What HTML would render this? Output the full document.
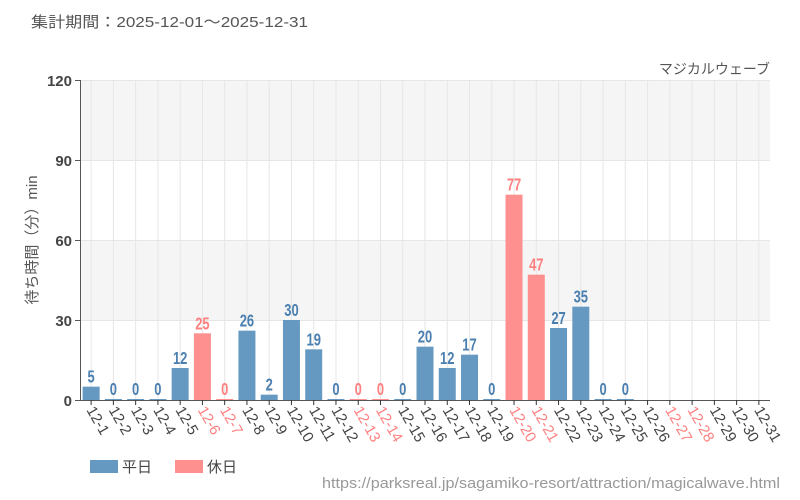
<!DOCTYPE html>
<html><head><meta charset="utf-8"><style>body{margin:0;background:#fff}svg{display:block}</style></head>
<body>
<svg width="800" height="500" xmlns="http://www.w3.org/2000/svg" font-family="'Liberation Sans','Noto Sans CJK JP',sans-serif">
<text x="31" y="27" font-size="15" fill="#555" textLength="277" lengthAdjust="spacingAndGlyphs">集計期間：2025-12-01～2025-12-31</text>
<text x="770" y="74" font-size="14" fill="#555" text-anchor="end">マジカルウェーブ</text>
<rect x="80" y="80" width="690" height="80" fill="#f5f5f5"/>
<rect x="80" y="240" width="690" height="80" fill="#f5f5f5"/>
<g stroke="#e6e6e6" stroke-width="1">
<line x1="80" y1="80.5" x2="770" y2="80.5"/><line x1="80" y1="160.5" x2="770" y2="160.5"/><line x1="80" y1="240.5" x2="770" y2="240.5"/><line x1="80" y1="320.5" x2="770" y2="320.5"/>
</g>
<g id="g"></g>
<line x1="80.5" y1="80" x2="80.5" y2="400" stroke="#555"/>
<line x1="80" y1="400.5" x2="770" y2="400.5" stroke="#555"/>
<g font-size="15" font-weight="bold" fill="#444" text-anchor="end">
<text x="72" y="86">120</text><text x="72" y="166">90</text><text x="72" y="246">60</text><text x="72" y="326">30</text><text x="72" y="406">0</text>
</g>
<g stroke="#555"><line x1="75" y1="80.5" x2="80" y2="80.5"/><line x1="75" y1="160.5" x2="80" y2="160.5"/><line x1="75" y1="240.5" x2="80" y2="240.5"/><line x1="75" y1="320.5" x2="80" y2="320.5"/><line x1="75" y1="400.5" x2="80" y2="400.5"/></g>
<text transform="translate(37,240) rotate(-90)" font-size="15" fill="#555" text-anchor="middle">待ち時間（分）min</text>
<rect x="90" y="460" width="28" height="13" fill="#6699c2"/><text x="122" y="472" font-size="15" fill="#444">平日</text>
<rect x="175" y="460" width="28" height="13" fill="#ff9090"/><text x="207" y="472" font-size="15" fill="#444">休日</text>
<text x="780" y="488" font-size="15" fill="#999" text-anchor="end" textLength="458" lengthAdjust="spacingAndGlyphs">https://parksreal.jp/sagamiko-resort/attraction/magicalwave.html</text>
<g id="b"></g>
</svg>
<script>
var v=[5,0,0,0,12,25,0,26,2,30,19,0,0,0,0,20,12,17,0,77,47,27,35,0,0,null,null,null,null,null,null];
var hol=[6,7,13,14,20,21,27,28];
var g=document.getElementById('g'),b=document.getElementById('b'),s='',t='';
for(var i=0;i<31;i++){var d=i+1,cx=80+22.258*(i+0.5),h=hol.indexOf(d)>=0;
s+='<line x1="'+cx+'" y1="80" x2="'+cx+'" y2="400" stroke="#e6e6e6"/>';
t+='<line x1="'+cx+'" y1="400" x2="'+cx+'" y2="405" stroke="#333"/>';
var c=h?'#ff9090':'#6699c2',tc=h?'#ff8080':'#4a7fb0';
if(v[i]!==null){var bh=Math.max(v[i]*8/3,1);
t+='<rect x="'+(cx-8.5)+'" y="'+(400-bh)+'" width="17" height="'+bh+'" fill="'+c+'"/>';
t+='<text transform="translate('+cx+','+(396-bh)+') scale(0.72,1)" text-anchor="middle" font-size="18" font-weight="bold" fill="'+tc+'">'+v[i]+'</text>';}
t+='<text transform="translate('+(cx-5)+',410) rotate(60)" font-size="15" fill="'+(h?'#ff8080':'#444')+'">12-'+d+'</text>';}
g.innerHTML=s;b.innerHTML=t;
</script>
</body></html>
